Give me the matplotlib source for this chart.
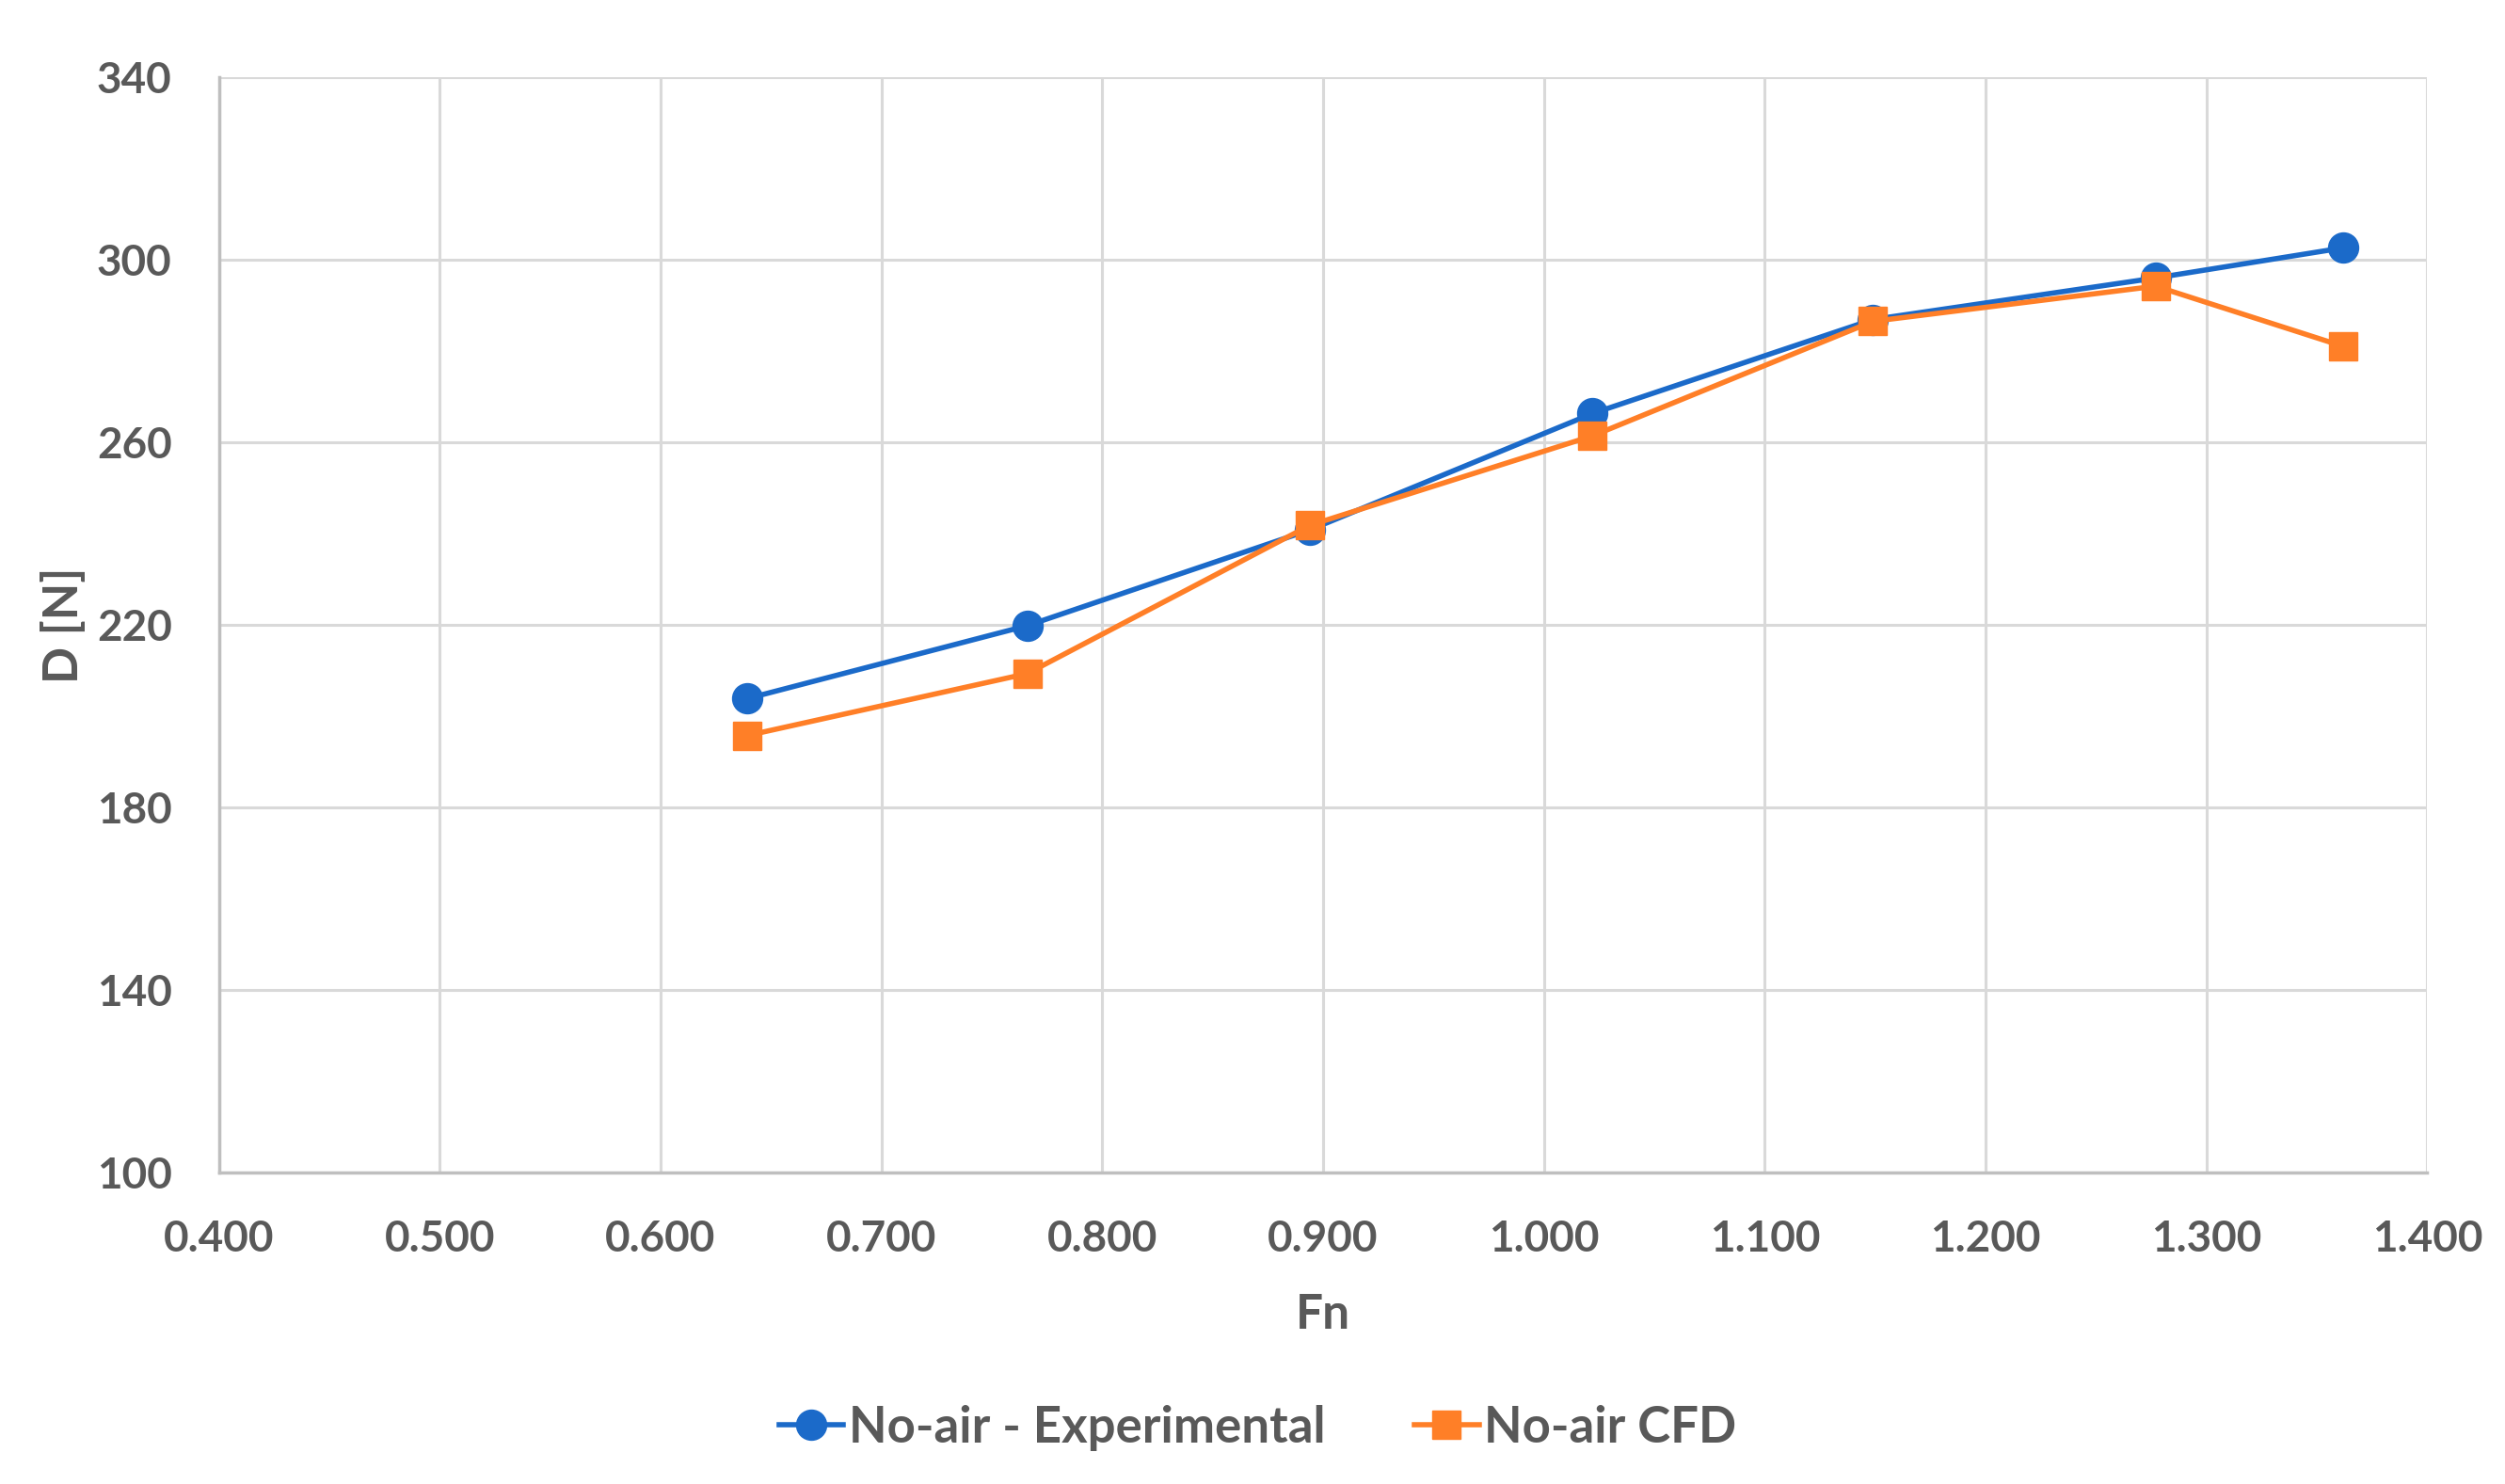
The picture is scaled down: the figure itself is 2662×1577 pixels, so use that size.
import matplotlib
matplotlib.use('Agg')
import matplotlib.pyplot as plt
from matplotlib.ticker import FormatStrFormatter

# Data
fn = [0.639, 0.766, 0.894, 1.022, 1.149, 1.277, 1.362]
d_experimental = [203.8, 219.8, 240.8, 266.3, 286.9, 296.0, 302.6]
d_cfd = [195.7, 209.3, 241.8, 261.4, 286.5, 294.2, 281.0]

x_ticks = [0.4, 0.5, 0.6, 0.7, 0.8, 0.9, 1.0, 1.1, 1.2, 1.3, 1.4]
y_ticks = [100, 140, 180, 220, 260, 300, 340]
labels = ['No-air - Experimental', 'No-air CFD']

plt.rcParams['font.family'] = ['Lato', 'DejaVu Sans']
text_color = '#595959'
grid_color = '#d9d9d9'

# Fig
fig = plt.figure(figsize=(26.62, 15.77), dpi=100)
ax = fig.add_axes([0.0874, 0.210, 0.8816, 0.738])

# Plot
ax.plot(fn, d_experimental, color='#1b6ac9', linewidth=4, marker='o',
        markersize=23, label=labels[0], zorder=3)
ax.plot(fn, d_cfd, color='#ff7f27', linewidth=4, marker='s',
        markersize=21, label=labels[1], zorder=4)

# Axes settings
ax.set_xlim(0.4, 1.4)
ax.set_ylim(100, 340)
ax.set_xticks(x_ticks)
ax.set_yticks(y_ticks)
ax.xaxis.set_major_formatter(FormatStrFormatter('%.3f'))
ax.grid(True, color=grid_color, linewidth=2.2, zorder=0)
ax.set_axisbelow(True)

for side in ['top', 'right']:
    ax.spines[side].set_visible(False)
for side in ['left', 'bottom']:
    ax.spines[side].set_color('#bfbfbf')
    ax.spines[side].set_linewidth(2.5)

ax.tick_params(length=0, labelsize=33, labelcolor=text_color)
ax.tick_params(axis='x', pad=36)
ax.tick_params(axis='y', pad=36)
for lbl in ax.get_xticklabels() + ax.get_yticklabels():
    lbl.set_fontweight('bold')

ax.set_xlabel('Fn', fontsize=37, fontweight='bold', color=text_color, labelpad=26)
ax.set_ylabel('D [N]', fontsize=37, fontweight='bold', color=text_color, labelpad=8)

fig.legend(loc='center', bbox_to_anchor=(0.502, 0.038), ncol=2, frameon=False,
           prop={'size': 38, 'weight': 'bold'}, labelcolor=text_color,
           handlelength=1.3, handletextpad=0.1, columnspacing=1.8)

fig.savefig('out.png', dpi=100)
